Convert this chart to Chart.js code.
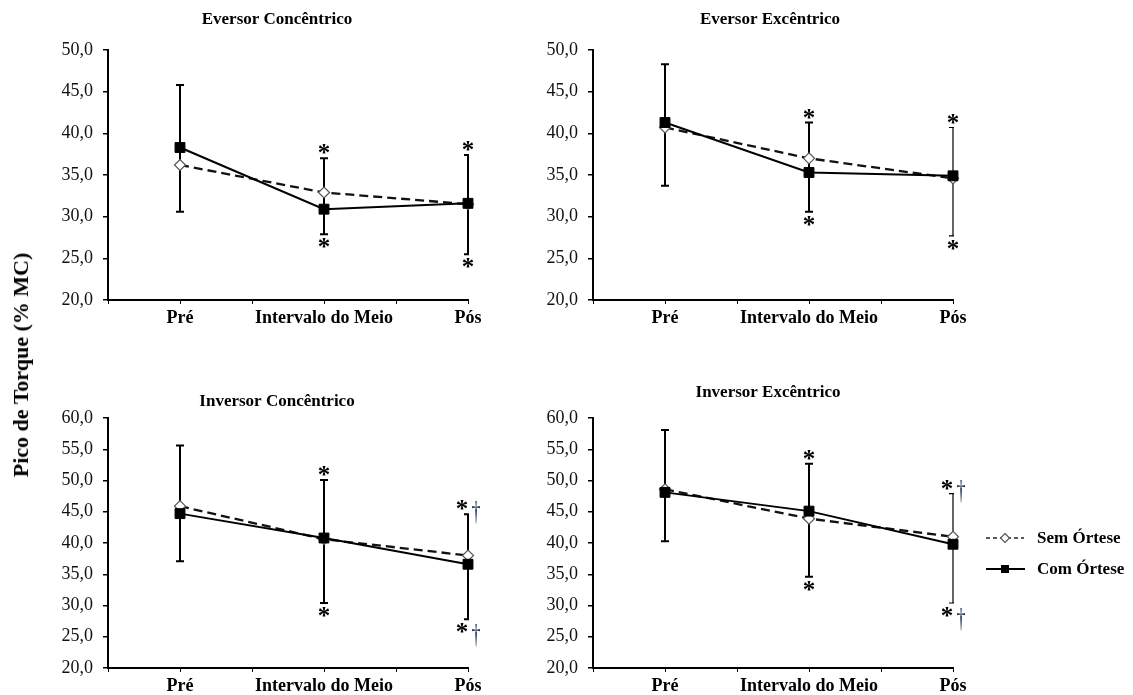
<!DOCTYPE html>
<html>
<head>
<meta charset="utf-8">
<script src="https://cdn.jsdelivr.net/npm/chart.js@4"></script>
<style>
  body { margin: 0; background: #fff; width: 1133px; height: 695px; position: relative; overflow: hidden; font-family: 'Liberation Serif', 'Times New Roman', serif; }
  canvas { position: absolute; }
  #yLabel { position: absolute; left: 21px; top: 365px; transform: translate(-50%, -50%) rotate(-90deg); white-space: nowrap; font-weight: bold; font-size: 22px; color: #000; }
  .lg { position: absolute; left: 984px; height: 16px; display: flex; align-items: center; font-weight: bold; font-size: 17px; color: #000; white-space: nowrap; }
  .lg svg { margin-right: 11px; }
</style>
</head>
<body>
<canvas id="c0" width="500" height="340" style="left:0;top:0"></canvas>
<canvas id="c1" width="500" height="340" style="left:485px;top:0"></canvas>
<canvas id="c2" width="500" height="340" style="left:0;top:368px"></canvas>
<canvas id="c3" width="500" height="340" style="left:485px;top:368px"></canvas>

<div id="yLabel">Pico de Torque (% MC)</div>
<div class="lg" style="top:530px">
  <svg width="42" height="14"><line x1="2" y1="7" x2="40" y2="7" stroke="#222" stroke-width="1.6" stroke-dasharray="4,3"/><path d="M21 2.5 L25.5 7 L21 11.5 L16.5 7 Z" fill="#fff" stroke="#555" stroke-width="1.2"/></svg><span>Sem Órtese</span>
</div>
<div class="lg" style="top:561px">
  <svg width="42" height="14"><line x1="2" y1="7" x2="41" y2="7" stroke="#000" stroke-width="2"/><rect x="17" y="3" width="8" height="8" fill="#000"/></svg><span>Com Órtese</span>
</div>

<script>
const categories = ['Pré', 'Intervalo do Meio', 'Pós'];
const seriesNames = ['Sem Órtese', 'Com Órtese'];
const panelTitles = ['Eversor Concêntrico', 'Eversor Excêntrico', 'Inversor Concêntrico', 'Inversor Excêntrico'];

// Eversor Concêntrico
const evConcSem = [36.2, 32.9, 31.5];
const evConcCom = [38.3, 30.9, 31.6];
const evConcUpper = [45.8, 37.0, 37.4];
const evConcLower = [30.6, 27.9, 25.5];

// Eversor Excêntrico
const evExcSem = [40.7, 37.0, 34.6];
const evExcCom = [41.3, 35.3, 34.9];
const evExcUpper = [48.3, 41.3, 40.7];
const evExcLower = [33.7, 30.6, 27.7];

// Inversor Concêntrico
const invConcSem = [45.9, 40.6, 38.0];
const invConcCom = [44.7, 40.8, 36.6];
const invConcUpper = [55.6, 50.1, 44.6];
const invConcLower = [37.1, 30.4, 27.8];

// Inversor Excêntrico
const invExcSem = [48.6, 43.9, 41.0];
const invExcCom = [48.1, 45.1, 39.8];
const invExcUpper = [58.1, 52.7, 47.9];
const invExcLower = [40.3, 34.6, 30.4];

// significance marks above / below each bar
const topMarksAbove = ['', '*', '*'];
const topMarksBelow = ['', '*', '*'];
const bottomMarksAbove = ['', '*', '*†'];
const bottomMarksBelow = ['', '*', '*†'];

const FONT = "'Liberation Serif', 'Times New Roman', serif";

const panelTitle = {
  id: 'panelTitle',
  afterDraw(chart, args, opts) {
    const ctx = chart.ctx;
    ctx.save();
    ctx.font = 'bold 17px ' + FONT;
    ctx.fillStyle = '#000';
    ctx.textAlign = 'center';
    ctx.textBaseline = 'middle';
    ctx.fillText(opts.text, opts.x, opts.y);
    ctx.restore();
  }
};

const errorBars = {
  id: 'errorBars',
  beforeDatasetsDraw(chart, args, opts) {
    const { ctx, chartArea, scales: { x, y } } = chart;
    ctx.save();
    ctx.strokeStyle = '#000';
    opts.upper.forEach((hi, i) => {
      const px = x.getPixelForValue(i);
      const top = y.getPixelForValue(hi);
      const bot = y.getPixelForValue(opts.lower[i]);
      const capRight = Math.min(px + 4, chartArea.right + 1);
      ctx.lineWidth = opts.widths[i];
      ctx.beginPath();
      ctx.moveTo(px, top); ctx.lineTo(px, bot);
      ctx.moveTo(px - 4, top); ctx.lineTo(capRight, top);
      ctx.moveTo(px - 4, bot); ctx.lineTo(capRight, bot);
      ctx.stroke();
    });
    ctx.restore();
  },
  afterDatasetsDraw(chart, args, opts) {
    const { ctx, scales: { x, y } } = chart;
    const starFont = 'bold 25px ' + FONT;
    const daggerFont = '28px ' + FONT;
    ctx.save();
    ctx.textAlign = 'center';
    ctx.textBaseline = 'alphabetic';
    ctx.font = daggerFont;
    const d = ctx.measureText('†');
    const dHalf = (d.actualBoundingBoxAscent - d.actualBoundingBoxDescent) / 2;
    ctx.font = starFont;
    const m = ctx.measureText('*');
    const half = (m.actualBoundingBoxAscent - m.actualBoundingBoxDescent) / 2;

    const drawMark = (mark, px, centerY) => {
      if (!mark) return;
      ctx.fillStyle = '#000';
      if (mark.includes('†')) {
        ctx.fillText('*', px - 6, centerY + half);
        // narrow dagger, like the original's
        ctx.save();
        ctx.translate(px + 8, centerY + 7 + dHalf);
        ctx.scale(0.65, 1);
        ctx.fillStyle = '#24385e';
        ctx.font = daggerFont;
        ctx.fillText('†', 0, 0);
        ctx.restore();
      } else {
        ctx.fillText('*', px, centerY + half);
      }
    };

    opts.upper.forEach((hi, i) => {
      const px = x.getPixelForValue(i);
      drawMark(opts.above[i], px, y.getPixelForValue(hi) - 9);
      drawMark(opts.below[i], px, y.getPixelForValue(opts.lower[i]) + 9);
    });
    ctx.restore();
  }
};

function makePanel(id, cfg) {
  return new Chart(document.getElementById(id), {
    type: 'line',
    data: {
      datasets: [
        {
          label: seriesNames[0],
          data: cfg.sem.map((v, i) => ({ x: i, y: v })),
          borderColor: '#111',
          borderWidth: 2.3,
          borderDash: [9, 5],
          pointStyle: 'rectRot',
          pointRadius: 5.5,
          pointBackgroundColor: '#fff',
          pointBorderColor: '#555',
          pointBorderWidth: 1.2,
          order: 1,
          clip: false
        },
        {
          label: seriesNames[1],
          data: cfg.com.map((v, i) => ({ x: i, y: v })),
          borderColor: '#000',
          borderWidth: 2,
          pointStyle: 'rect',
          pointRadius: 7,
          pointBackgroundColor: '#000',
          pointBorderColor: '#000',
          pointBorderWidth: 1,
          order: 0,
          clip: false
        }
      ]
    },
    options: {
      responsive: false,
      animation: false,
      layout: { padding: { left: 0, top: 50, right: 32, bottom: 0 } },
      plugins: {
        legend: { display: false },
        tooltip: { enabled: false },
        panelTitle: { text: cfg.title, x: cfg.titleX, y: cfg.titleY },
        errorBars: { upper: cfg.upper, lower: cfg.lower, widths: cfg.barWidths, above: cfg.above, below: cfg.below }
      },
      scales: {
        x: {
          type: 'linear',
          min: -0.5,
          max: 2,
          afterFit: (s) => { s.height = 40; },
          ticks: {
            stepSize: 0.5,
            autoSkip: false,
            maxRotation: 0,
            callback: (v) => Number.isInteger(v) ? categories[v] : '',
            font: { family: FONT, size: 18, weight: 'bold' },
            color: '#000',
            padding: 4
          },
          grid: { drawOnChartArea: false, tickLength: 4, color: '#000', lineWidth: 1 },
          border: { color: '#000', width: 2 }
        },
        y: {
          min: cfg.yMin,
          max: cfg.yMax,
          afterFit: (s) => { s.width = 108; },
          ticks: {
            stepSize: 5,
            callback: (v) => v.toFixed(1).replace('.', ','),
            font: { family: FONT, size: 18 },
            color: '#111',
            padding: 10
          },
          grid: { drawOnChartArea: false, tickLength: 5, color: '#000', lineWidth: 1.5 },
          border: { color: '#000', width: 2 }
        }
      }
    },
    plugins: [panelTitle, errorBars]
  });
}

makePanel('c0', { title: panelTitles[0], titleX: 277, titleY: 20, yMin: 20, yMax: 50,
  sem: evConcSem, com: evConcCom, upper: evConcUpper, lower: evConcLower,
  barWidths: [2, 2, 2], above: topMarksAbove, below: topMarksBelow });
makePanel('c1', { title: panelTitles[1], titleX: 285, titleY: 20, yMin: 20, yMax: 50,
  sem: evExcSem, com: evExcCom, upper: evExcUpper, lower: evExcLower,
  barWidths: [2, 2, 1.2], above: topMarksAbove, below: topMarksBelow });
makePanel('c2', { title: panelTitles[2], titleX: 277, titleY: 34, yMin: 20, yMax: 60,
  sem: invConcSem, com: invConcCom, upper: invConcUpper, lower: invConcLower,
  barWidths: [2, 2, 2], above: bottomMarksAbove, below: bottomMarksBelow });
makePanel('c3', { title: panelTitles[3], titleX: 283, titleY: 25, yMin: 20, yMax: 60,
  sem: invExcSem, com: invExcCom, upper: invExcUpper, lower: invExcLower,
  barWidths: [2, 2, 1.2], above: bottomMarksAbove, below: bottomMarksBelow });
</script>
</body>
</html>
